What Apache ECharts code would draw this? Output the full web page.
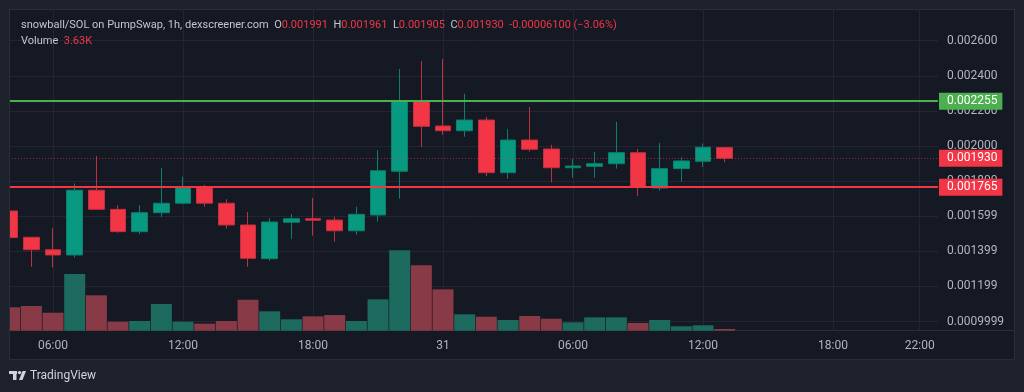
<!DOCTYPE html>
<html>
<head>
<meta charset="utf-8">
<script src="https://cdn.jsdelivr.net/npm/echarts@6/dist/echarts.min.js"></script>
<style>
html,body{margin:0;padding:0;background:#1e222d;}
#chart{width:1024px;height:392px;}
</style>
</head>
<body>
<div id="chart"></div>
<script>
// ---- data ----
var hours = [4,5,6,7,8,9,10,11,12,13,14,15,16,17,18,19,20,21,22,23,24,25,26,27,28,29,30,31,32,33,34,35,36,37];
var opens  = [0.001630,0.001480,0.001409,0.001379,0.001748,0.001639,0.001512,0.001620,0.001674,0.001762,0.001674,0.001550,0.001358,0.001565,0.001586,0.001578,0.001517,0.001607,0.001856,0.002255,0.002114,0.002087,0.002148,0.001848,0.002034,0.001983,0.001876,0.001884,0.001899,0.001962,0.001761,0.001871,0.001913,0.001991];
var closes = [0.001478,0.001409,0.001379,0.001748,0.001639,0.001512,0.001620,0.001674,0.001762,0.001674,0.001550,0.001360,0.001567,0.001586,0.001577,0.001517,0.001611,0.001859,0.002255,0.002112,0.002087,0.002148,0.001848,0.002034,0.001981,0.001876,0.001886,0.001899,0.001962,0.001765,0.001871,0.001915,0.001993,0.001930];
var lows   = [0.001389,0.001312,0.001309,0.001364,0.001637,0.001506,0.001497,0.001594,0.001668,0.001654,0.001531,0.001312,0.001345,0.001470,0.001489,0.001455,0.001495,0.001569,0.001700,0.001994,0.002064,0.002053,0.001829,0.001814,0.001968,0.001793,0.001819,0.001819,0.001871,0.001715,0.001745,0.001797,0.001880,0.001907];
var highs  = [0.001683,0.001482,0.001531,0.001787,0.001943,0.001662,0.001662,0.001876,0.001825,0.001778,0.001696,0.001624,0.001590,0.001613,0.001704,0.001597,0.001654,0.001977,0.002439,0.002484,0.002496,0.002298,0.002165,0.002097,0.002222,0.002007,0.001926,0.001966,0.002137,0.001983,0.002017,0.001936,0.002015,0.001993];
var volumesK = [50.0,52.7,38.4,121,75.6,19.2,20.7,57.0,19.2,15.0,20.7,66.2,41.4,24.3,30.7,33.5,20.7,67.0,171.7,139.6,88.4,35.0,29.9,22.8,31.4,25.6,17.9,28.6,28.6,16.4,22.8,9.4,11.5,3.63];

var priceTickValues = [0.0010,0.0012,0.0014,0.0016,0.0018,0.0020,0.0022,0.0024,0.0026];
var priceTickLabels = ['0.0009999','0.001199','0.001399','0.001599','0.001800','0.002000','0.002200','0.002400','0.002600'];
var timeTickValues = [6,12,18,24,30,36,42,46];
var timeTickLabels = ['06:00','12:00','18:00','31','06:00','12:00','18:00','22:00'];

var levelValues = [0.002255, 0.001930, 0.001765];

var header = {
  pair: 'snowball/SOL on PumpSwap, 1h, dexscreener.com',
  o: '0.001991', h: '0.001961', l: '0.001905', c: '0.001930',
  change: '-0.00006100 (\u22123.06%)', volume: '3.63K'
};

// ---- build ----
var UP = '#089981', DOWN = '#f23645';
var candleData = hours.map(function(h,i){ return [h, opens[i], closes[i], lows[i], highs[i]]; });
var volData = hours.map(function(h,i){ return [h, volumesK[i]]; });

function lookup(vals, labels, v){
  for (var i=0;i<vals.length;i++){ if (Math.abs(vals[i]-v) < 1e-9) return labels[i]; }
  return '';
}

var chart = echarts.init(document.getElementById('chart'), null, {renderer:'canvas'});
var FONT = 'Roboto, "Noto Sans", sans-serif';
var axisText = '#b2b5be';
var gridCol = '#222633';
var OUTER = '#1e222d', PANEL = '#151924', BORDER = '#2a2e39';

function levelLabel(v, bg){
  return {show:true, position:'end', distance:1, formatter: v.toFixed(6), backgroundColor:bg,
          color:'#ffffff', fontSize:12, fontFamily: FONT, padding:[3,5,2,8]};
}

var option = {
  backgroundColor: OUTER,
  animation: false,
  textStyle: {fontFamily: FONT},
  title: {
    left: 16, top: 12,
    text: '{g|' + header.pair + '}  {g|O}{r|' + header.o + '}  {g|H}{r|' + header.h + '}  {g|L}{r|' + header.l + '}  {g|C}{r|' + header.c + '}  {r|' + header.change + '}\n{g|Volume}  {r|' + header.volume + '}',
    textStyle: {
      fontSize: 11, lineHeight: 16, fontWeight: 'normal', fontFamily: FONT,
      rich: {
        g: {color: '#c3c6ce', fontSize: 11, lineHeight: 16, fontFamily: FONT},
        r: {color: '#f23645', fontSize: 11, lineHeight: 16, fontFamily: FONT}
      }
    }
  },
  graphic: [
    {type:'rect', z:-10, silent:true, shape:{x:9.5,y:9.5,width:1005,height:350}, style:{fill:PANEL, stroke:BORDER, lineWidth:1}},
    {type:'line', z:-9, silent:true, shape:{x1:9,y1:330.5,x2:1014,y2:330.5}, style:{stroke:BORDER, lineWidth:1}},
    // mask outside the plot on the left (clip)
    {type:'rect', z:100, silent:true, shape:{x:0,y:0,width:9,height:392}, style:{fill:OUTER}},
    {type:'line', z:101, silent:true, shape:{x1:9.5,y1:9,x2:9.5,y2:360}, style:{stroke:BORDER, lineWidth:1}},
    // TradingView logo
    {type:'rect', silent:true, shape:{x:9,y:371,width:8,height:3}, style:{fill:'#d1d4dc'}},
    {type:'rect', silent:true, shape:{x:13,y:371,width:3.5,height:9}, style:{fill:'#d1d4dc'}},
    {type:'circle', silent:true, shape:{cx:19.5,cy:372.6,r:1.7}, style:{fill:'#d1d4dc'}},
    {type:'polygon', silent:true, shape:{points:[[19,380],[22.5,371],[26,371],[22.5,380]]}, style:{fill:'#d1d4dc'}},
    {type:'text', silent:true, x:30, y:376, style:{text:'TradingView', fill:'#d1d4dc', font:'12px ' + FONT, textVerticalAlign:'middle'}}
  ],
  grid: {left: 9, top: 9, width: 929, height: 321.7, containLabel: false},
  xAxis: {
    type: 'value', min: 3.9677, max: 46.845,
    axisLine: {show:false},
    axisTick: {show:false, customValues: timeTickValues},
    splitLine: {show:true, lineStyle:{color: gridCol, width:1}},
    axisLabel: {
      customValues: timeTickValues, color: axisText, fontSize: 12, margin: 9, fontFamily: FONT,
      formatter: function(v){ return lookup(timeTickValues, timeTickLabels, v); }
    }
  },
  yAxis: [
    {
      type: 'value', position: 'right', min: 0.0009476, max: 0.0027806, scale: true,
      axisLine: {show:false},
      axisTick: {show:false, customValues: priceTickValues},
      splitLine: {show:true, lineStyle:{color: gridCol, width:1}},
      axisLabel: {
        customValues: priceTickValues, color: axisText, fontSize: 12, margin: 9, align: 'left', fontFamily: FONT,
        formatter: function(v){ return lookup(priceTickValues, priceTickLabels, v); }
      }
    },
    {
      type: 'value', min: 0, max: 687, show: false,
      splitLine: {show:false}
    }
  ],
  series: [
    {
      type: 'bar', name: 'Volume', xAxisIndex: 0, yAxisIndex: 1,
      data: volData, barWidth: 21,
      itemStyle: {
        color: function(p){ return closes[p.dataIndex] >= opens[p.dataIndex] ? '#1d6a5f' : '#883a46'; }
      },
      z: 1
    },
    {
      type: 'candlestick', name: 'Price', xAxisIndex: 0, yAxisIndex: 0,
      data: candleData, encode: {x: 0, y: [1,2,3,4]},
      barWidth: 16,
      itemStyle: {color: UP, color0: DOWN, borderColor: '#0b7f6c', borderColor0: '#c0303f', borderWidth: 1},
      z: 3
    },
    {
      type: 'line', name: 'Levels', xAxisIndex: 0, yAxisIndex: 0,
      data: [], showSymbol: false, silent: true, z: 4,
      markLine: {
        silent: true, symbol: ['none','none'], animation: false, precision: 8,
        data: [
          {yAxis: levelValues[1], lineStyle:{color:'rgba(242,54,69,0.55)', width:1, type:[1,2]}, label: levelLabel(levelValues[1], '#f23645')},
          {yAxis: levelValues[0], lineStyle:{color:'#4caf50', width:2, type:'solid'}, label: levelLabel(levelValues[0], '#4caf50')},
          {yAxis: levelValues[2], lineStyle:{color:'#f23645', width:2, type:'solid'}, label: levelLabel(levelValues[2], '#f23645')}
        ]
      }
    }
  ]
};
chart.setOption(option);
</script>
</body>
</html>
